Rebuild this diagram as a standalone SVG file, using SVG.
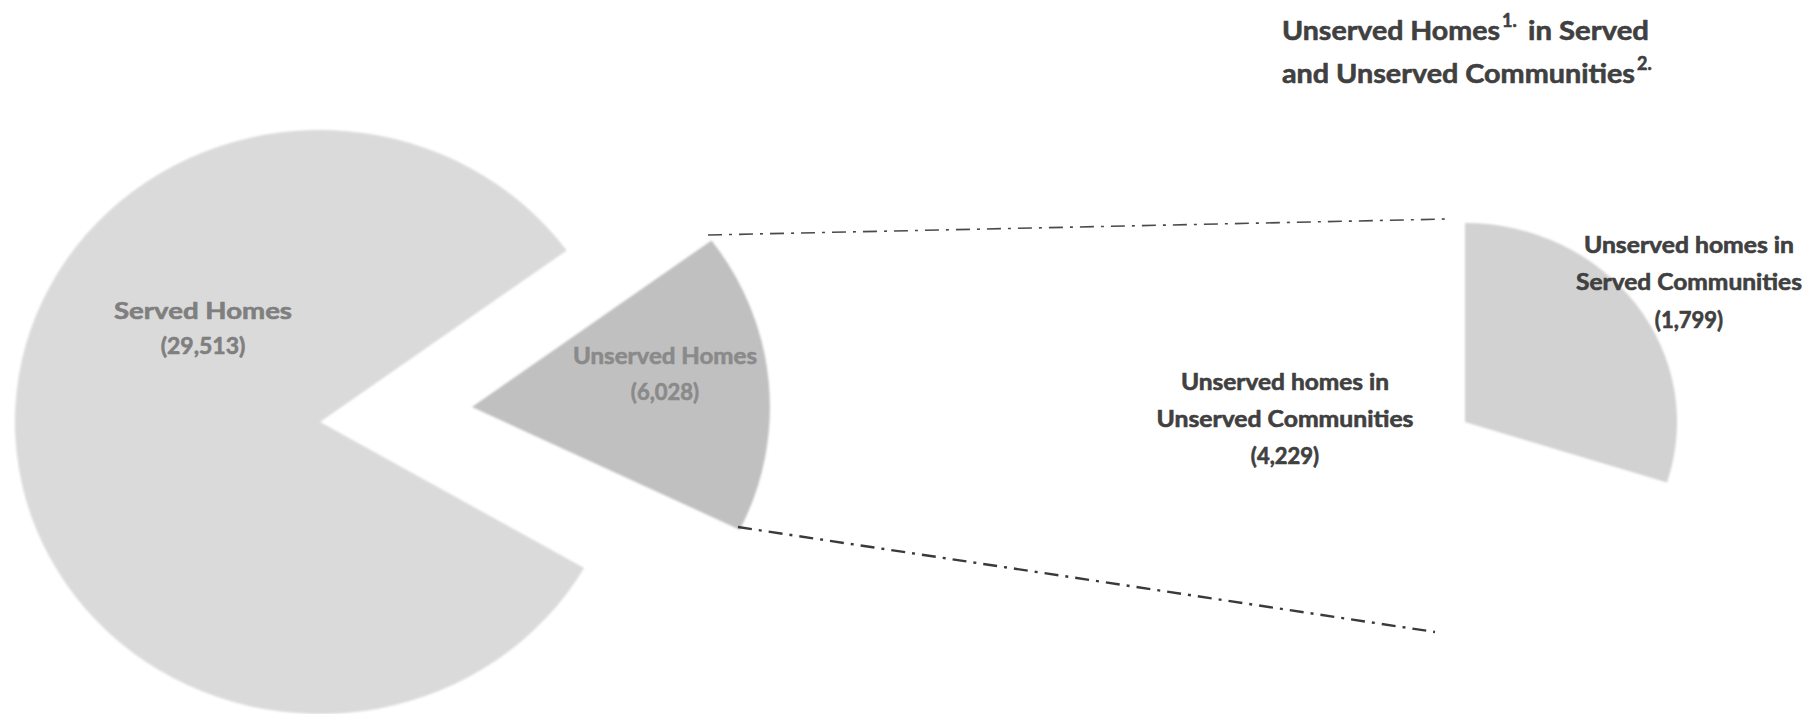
<svg xmlns="http://www.w3.org/2000/svg" width="1808" height="714" viewBox="0 0 1808 714">
  <style>
    .t { font-family: Lato, "Open Sans", "Liberation Sans", sans-serif; font-weight: bold; stroke-width: 0.6px; stroke-linejoin: round; }
    .title { font-size: 27px; fill: #404040; stroke: #404040; }
    .sup { font-size: 18px; fill: #404040; stroke: #404040; }
    .lblA { font-size: 23px; fill: #7f7f7f; stroke: #7f7f7f; text-anchor: middle; }
    .lblB { font-size: 22px; fill: #8a8a8a; stroke: #8a8a8a; text-anchor: middle; }
    .lblC { font-size: 22px; fill: #404040; stroke: #404040; text-anchor: middle; }
    .conn { fill: none; stroke-dasharray: 14 7 3 7; }
  </style>
  <defs>
    <filter id="soft" x="-5%" y="-5%" width="110%" height="110%">
      <feGaussianBlur stdDeviation="1.2"/>
    </filter>
  </defs>
  <rect width="1808" height="714" fill="#ffffff"/>

  <g id="title">
    <text class="t title" x="1282" y="40" textLength="218" lengthAdjust="spacingAndGlyphs">Unserved Homes</text>
    <text class="t sup" x="1502" y="27">1.</text>
    <text class="t title" x="1528" y="40" textLength="121" lengthAdjust="spacingAndGlyphs">in Served</text>
    <text class="t title" x="1282" y="83" textLength="353" lengthAdjust="spacingAndGlyphs">and Unserved Communities</text>
    <text class="t sup" x="1637" y="70">2.</text>
  </g>

  <g id="node-served-homes">
    <path d="M 320 422 L 566.7 250.4 A 305 292 0 1 0 584.1 568 Z" fill="#dadada" filter="url(#soft)"/>
    <text class="t lblA" x="203" y="319" textLength="178" lengthAdjust="spacingAndGlyphs">Served Homes</text>
    <text class="t lblA" x="203" y="354">(29,513)</text>
  </g>

  <g id="node-unserved-homes">
    <path d="M 472 407 L 711.5 240.5 A 298 280 0 0 1 739.8 529.7 Z" fill="#c0c0c0" filter="url(#soft)"/>
    <text class="t lblB" x="665" y="364" textLength="184" lengthAdjust="spacingAndGlyphs">Unserved Homes</text>
    <text class="t lblB" x="665" y="400">(6,028)</text>
  </g>

  <g id="node-unserved-in-served-communities">
    <path d="M 1465 422 L 1465 223 A 212 199 0 0 1 1667 482.5 Z" fill="#d2d2d2" filter="url(#soft)"/>
    <text class="t lblC" x="1689" y="253" textLength="210" lengthAdjust="spacingAndGlyphs">Unserved homes in</text>
    <text class="t lblC" x="1689" y="290" textLength="226" lengthAdjust="spacingAndGlyphs">Served Communities</text>
    <text class="t lblC" x="1689" y="328">(1,799)</text>
  </g>

  <g id="node-unserved-in-unserved-communities">
    <text class="t lblC" x="1285" y="390" textLength="208" lengthAdjust="spacingAndGlyphs">Unserved homes in</text>
    <text class="t lblC" x="1285" y="427" textLength="257" lengthAdjust="spacingAndGlyphs">Unserved Communities</text>
    <text class="t lblC" x="1285" y="464">(4,229)</text>
  </g>

  <g id="connectors">
    <line class="conn" x1="708" y1="235" x2="1448" y2="219" stroke="#4a4a4a" stroke-width="1.6"/>
    <line class="conn" x1="738" y1="527" x2="1435" y2="632" stroke="#3a3a3a" stroke-width="2.4"/>
  </g>
</svg>
